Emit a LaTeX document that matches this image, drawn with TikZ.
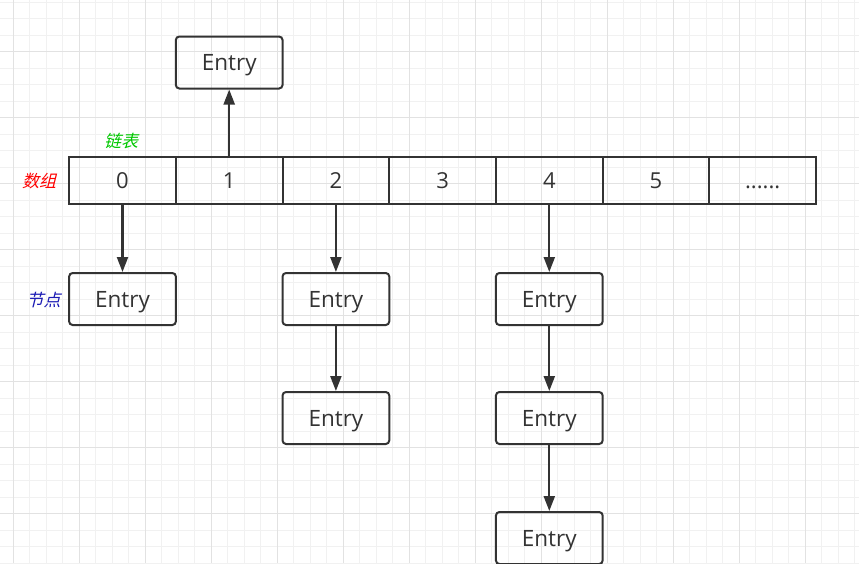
\documentclass[tikz,border=0pt]{standalone}
\usepackage{fontspec}
\setmainfont{Open Sans}
\newfontfamily\cjk[FakeSlant=0.25]{Noto Sans CJK SC}
\usetikzlibrary{arrows.meta}
\definecolor{ink}{HTML}{333333}
\definecolor{gridminor}{HTML}{F1F1F1}
\definecolor{gridmajor}{HTML}{E2E2E2}
\definecolor{lblgreen}{HTML}{00C800}
\definecolor{lblred}{HTML}{FF0000}
\definecolor{lblblue}{HTML}{1A1AB4}
\tikzset{
  cell/.style={draw=ink, line width=2pt, minimum width=106.7pt, minimum height=47pt, inner sep=0pt, text=ink, text height=15.7pt, text depth=0pt, font=\fontsize{22}{24}\selectfont},
  entry/.style={draw=ink, line width=2pt, rounded corners=3.5pt, minimum width=106.7pt, minimum height=52pt, inner sep=0pt, text=ink, text height=16.2pt, text depth=0pt, font=\fontsize{22.5}{24}\selectfont},
  link/.style={draw=ink, line width=2.2pt, -{Triangle[length=15pt,width=11pt]}},
  lbl/.style={inner sep=0pt, font=\cjk\fontsize{17}{18}\selectfont}
}
\begin{document}
\begin{tikzpicture}[x=1pt,y=-1pt]
\useasboundingbox (0,0) rectangle (859,563);
\begin{scope}
\clip (0,0) rectangle (859,563);
\fill[white] (0,0) rectangle (859,563);
\foreach \k in {0,...,53} {
  \pgfmathsetmacro{\gx}{-3.5+16.5*\k}
  \draw[gridminor, line width=1pt] (\gx,0) -- (\gx,563);
}
\foreach \k in {0,...,35} {
  \pgfmathsetmacro{\gy}{2.2+16.5*\k}
  \draw[gridminor, line width=1pt] (0,\gy) -- (859,\gy);
}
\foreach \k in {0,...,13} {
  \pgfmathsetmacro{\gx}{13+66*\k}
  \draw[gridmajor, line width=1pt] (\gx,0) -- (\gx,563);
}
\foreach \k in {0,...,8} {
  \pgfmathsetmacro{\gy}{-14.3+66*\k}
  \draw[gridmajor, line width=1pt] (0,\gy) -- (859,\gy);
}
\end{scope}

% array cells
\node[cell] (c0) at (122.5,180.5) {0};
\node[cell] (c1) at (229.2,180.5) {1};
\node[cell] (c2) at (335.9,180.5) {2};
\node[cell] (c3) at (442.6,180.5) {3};
\node[cell] (c4) at (549.3,180.5) {4};
\node[cell] (c5) at (656.0,180.5) {5};
\node[cell] (c6) at (762.7,180.5) {......};

% entries
\node[entry] (top) at (229.2,62.5) {Entry};
\node[entry] (e0) at (122.5,299) {Entry};
\node[entry] (e2a) at (335.9,299) {Entry};
\node[entry] (e2b) at (335.9,418) {Entry};
\node[entry] (e4a) at (549.3,299) {Entry};
\node[entry] (e4b) at (549.3,418) {Entry};
\node[entry] (e4c) at (549.3,538) {Entry};

% connectors
\draw[link] (c1.north) -- (top.south);
\draw[link] (c0.south) -- (e0.north);
\draw[link] (c2.south) -- (e2a.north);
\draw[link] (e2a.south) -- (e2b.north);
\draw[link] (c4.south) -- (e4a.north);
\draw[link] (e4a.south) -- (e4b.north);
\draw[link] (e4b.south) -- (e4c.north);

% labels
\node[lbl, text=lblgreen] (llist) at (121,141) {链表};
\node[lbl, text=lblred] (larr) at (39,181) {数组};
\node[lbl, text=lblblue] (lnode) at (43.5,300) {节点};
\end{tikzpicture}
\end{document}
